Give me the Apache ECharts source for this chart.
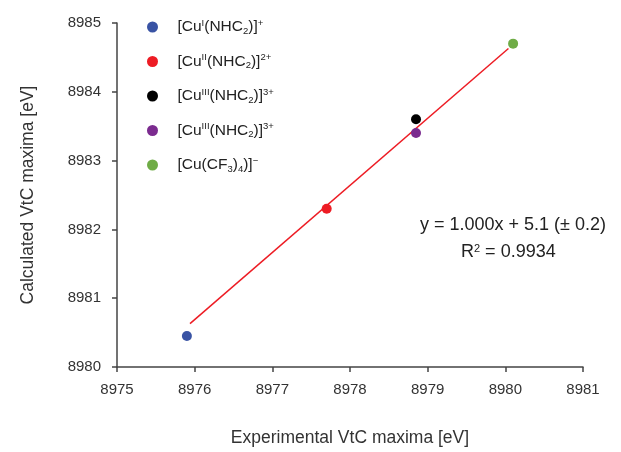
<!DOCTYPE html>
<html><head><meta charset="utf-8">
<script src="https://cdn.jsdelivr.net/npm/echarts@6/dist/echarts.min.js"></script>
<style>html,body{margin:0;padding:0;background:#fff}#c{width:621px;height:452px}</style>
</head><body><div id="c"></div>
<script>
// Data
const seriesNames = ['CuI', 'CuII', 'CuIII_a', 'CuIII_b', 'CuCF3'];
const legendRich = [
  '{a|[Cu}{sup|I}{a|(NHC}{sub|2}{a|)]}{sup|+}',
  '{a|[Cu}{sup|II}{a|(NHC}{sub|2}{a|)]}{sup|2+}',
  '{a|[Cu}{sup|III}{a|(NHC}{sub|2}{a|)]}{sup|3+}',
  '{a|[Cu}{sup|III}{a|(NHC}{sub|2}{a|)]}{sup|3+}',
  '{a|[Cu(CF}{sub|3}{a|)}{sub|4}{a|)]}{sup|−}'
];
const expValues = [8975.9, 8977.7, 8978.85, 8978.85, 8980.1];
const calcValues = [8980.45, 8982.3, 8983.6, 8983.4, 8984.7];
const colors = ['#3953a4', '#ed1c24', '#000000', '#7b2b8f', '#6fac46'];
const fitX = [8975.94, 8980.04];
const fitY = [8980.63, 8984.63];
const xTicks = [8975, 8976, 8977, 8978, 8979, 8980, 8981];
const yTicks = [8980, 8981, 8982, 8983, 8984, 8985];
const eqText = 'y = 1.000x + 5.1 (± 0.2)';
const r2Text = '{a|R}{sup|2}{a| = 0.9934}';

const font = '"Liberation Sans", Arial, sans-serif';
const chart = echarts.init(document.getElementById('c'));
const series = seriesNames.map((n, i) => ({
  name: n, type: 'scatter', symbol: 'circle', symbolSize: 10,
  itemStyle: { color: colors[i], opacity: 1 },
  data: [[expValues[i], calcValues[i]]], z: 3
}));
series.unshift({
  name: 'fit', type: 'line', symbol: 'none', silent: true,
  lineStyle: { color: '#ed1c24', width: 1.5 },
  data: fitX.map((x, i) => [x, fitY[i]]), z: 2
});
const labelMap = {};
seriesNames.forEach((n, i) => labelMap[n] = legendRich[i]);
const rich = {
  a: { fontSize: 15.5, fontFamily: font, color: '#222' },
  sup: { fontSize: 9.5, fontFamily: font, color: '#222', padding: [0, 0, 8, 0] },
  sub: { fontSize: 9.5, fontFamily: font, color: '#222', padding: [8, 0, 0, 0] }
};
chart.setOption({
  animation: false,
  grid: { left: 117, right: 38, top: 23, bottom: 85 },
  legend: {
    data: seriesNames, orient: 'vertical', left: 142, top: 13,
    icon: 'circle', itemWidth: 40, itemHeight: 11, itemGap: 16.5,
    formatter: n => labelMap[n],
    textStyle: { rich: rich }
  },
  xAxis: {
    type: 'value', min: xTicks[0], max: xTicks[xTicks.length - 1], interval: 1,
    name: 'Experimental VtC maxima [eV]', nameLocation: 'middle', nameGap: 62,
    nameTextStyle: { fontSize: 17.5, fontFamily: font, color: '#333' },
    axisLine: { lineStyle: { color: '#444', width: 1.5 } },
    axisTick: { show: true, length: 5, lineStyle: { color: '#444', width: 1.5 } },
    axisLabel: { fontSize: 15, fontFamily: font, color: '#333', margin: 15, formatter: v => String(v) },
    splitLine: { show: false }
  },
  yAxis: {
    type: 'value', min: yTicks[0], max: yTicks[yTicks.length - 1], interval: 1,
    name: 'Calculated VtC maxima [eV]', nameLocation: 'middle', nameGap: 80,
    nameTextStyle: { fontSize: 17.5, fontFamily: font, color: '#333' },
    axisLine: { show: true, lineStyle: { color: '#444', width: 1.5 } },
    axisTick: { show: true, length: 5, inside: false, lineStyle: { color: '#444', width: 1.5 } },
    axisLabel: { fontSize: 15, fontFamily: font, color: '#333', margin: 16, formatter: v => String(v) },
    splitLine: { show: false }
  },
  graphic: [
    { type: 'text', left: 420, top: 216, style: { text: eqText, fontSize: 18, fontFamily: font, fill: '#222' } },
    { type: 'text', left: 461, top: 243, style: { text: r2Text, rich: {
        a: { fontSize: 18, fontFamily: font, fill: '#222' },
        sup: { fontSize: 11, fontFamily: font, fill: '#222', padding: [0, 0, 8, 0] } } } }
  ],
  series: series
});
</script></body></html>
